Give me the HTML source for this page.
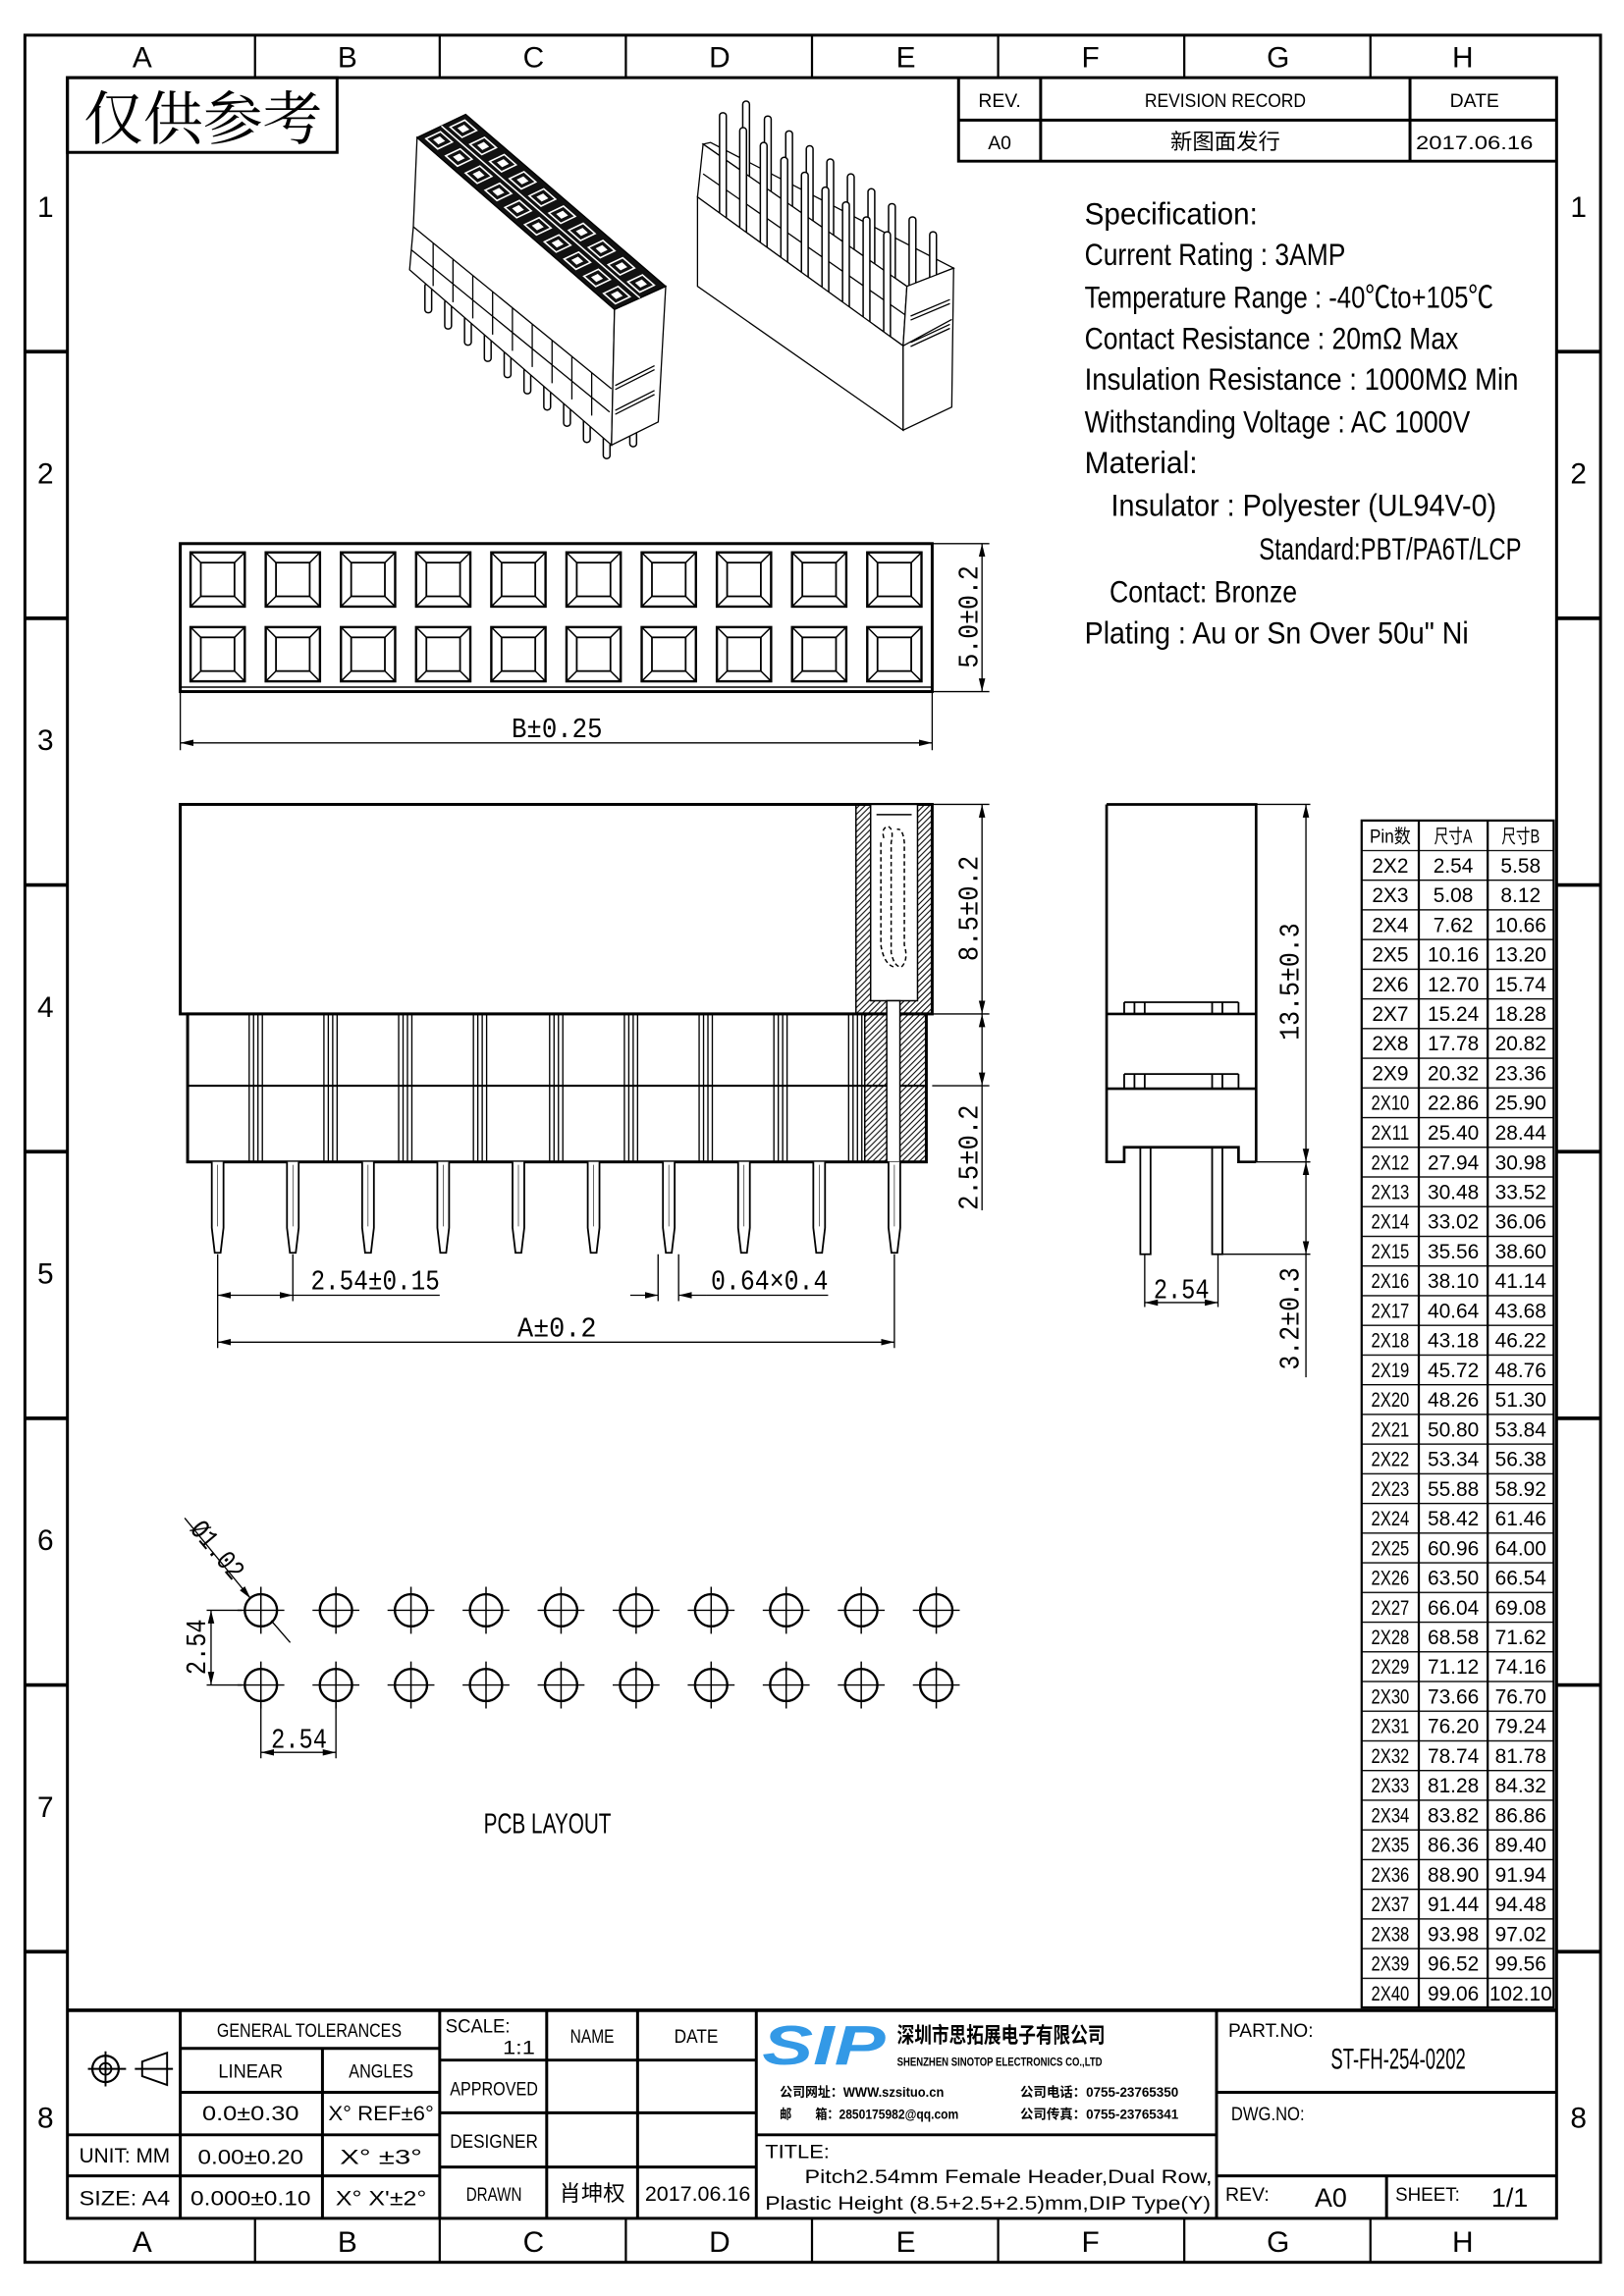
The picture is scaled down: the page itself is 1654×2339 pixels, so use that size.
<!DOCTYPE html>
<html><head><meta charset="utf-8">
<style>
html,body{margin:0;padding:0;background:#fff;}
svg{display:block;}
text{font-family:"Liberation Sans Narrow","Liberation Sans","Noto Sans CJK SC",sans-serif;fill:#000;}
.m{font-family:"Liberation Mono","Noto Sans CJK SC",monospace;}
.s{font-family:"Liberation Serif","Noto Serif CJK SC",serif;}
</style></head><body>
<svg xmlns="http://www.w3.org/2000/svg" xmlns:xlink="http://www.w3.org/1999/xlink" width="1654" height="2339" viewBox="0 0 1108 1567" preserveAspectRatio="none">
<defs>
<marker id="ar" markerWidth="10" markerHeight="6" refX="9" refY="3" orient="auto-start-reverse" markerUnits="userSpaceOnUse"><path d="M0,0.8 L9,3 L0,5.2 Z" fill="#000"/></marker>
<pattern id="hatch" width="4" height="4" patternUnits="userSpaceOnUse"><path d="M-1,1 L1,-1 M0,4 L4,0 M3,5 L5,3" stroke="#000" stroke-width="0.7"/></pattern>
<pattern id="rows" x="0" y="580" width="10" height="20.256" patternUnits="userSpaceOnUse"><line x1="0" y1="0.4" x2="10" y2="0.4" stroke="#000" stroke-width="1"/></pattern>
<g id="sq"><rect x="0" y="0" width="37" height="37" fill="none" stroke="#000" stroke-width="1.6"/><rect x="7" y="7" width="23" height="23" fill="none" stroke="#000" stroke-width="1.2"/><path d="M0,0 L7,7 M37,0 L30,7 M0,37 L7,30 M37,37 L30,30" stroke="#000" stroke-width="1"/></g>
<g id="pin"><path d="M-4,0 V45 L-2,62 H2 L4,45 V0" fill="#fff" stroke="#000" stroke-width="1.2"/><line x1="0" y1="2" x2="0" y2="44" stroke="#000" stroke-width="0.4"/></g>
<g id="hole"><circle r="11" fill="none" stroke="#000" stroke-width="1.6"/><path d="M-16,0 H16 M0,-16 V16" stroke="#000" stroke-width="1"/></g>
<g id="wall"><path d="M0,0 V101 M3,0 V101 M6,0 V101 M9,0 V101" stroke="#000" stroke-width="0.9"/></g>
<g id="cell"><polygon points="-35.3,-5.1 -3.7,26.1 35.3,5.1 3.7,-26.1" fill="none" stroke="#fff" stroke-width="1.6" vector-effect="non-scaling-stroke"/><polygon points="-17,-2.5 -2,13 17,2.5 2,-13" fill="#fff"/></g>
<g id="lp"><rect x="-9" y="0" width="18" height="90" rx="9" fill="#fff" stroke="#000" stroke-width="1.5" vector-effect="non-scaling-stroke"/></g>
<g id="rp"><rect x="-9" y="0" width="18" height="400" rx="9" fill="#fff" stroke="#000" stroke-width="1.5" vector-effect="non-scaling-stroke"/></g>
</defs>

<!-- frames -->
<rect x="17" y="24" width="1075" height="1520" fill="none" stroke="#000" stroke-width="2"/>
<rect x="46" y="53" width="1016" height="1461" fill="none" stroke="#000" stroke-width="2"/>
<path d="M174,24V53 M300,24V53 M427,24V53 M554,24V53 M681,24V53 M808,24V53 M935,24V53 M174,1514V1544 M300,1514V1544 M427,1514V1544 M554,1514V1544 M681,1514V1544 M808,1514V1544 M935,1514V1544" stroke="#000" stroke-width="1.5"/>
<path d="M17,240H46 M17,422H46 M17,604H46 M17,786H46 M17,968H46 M17,1150H46 M17,1332H46 M1062,240H1092 M1062,422H1092 M1062,604H1092 M1062,786H1092 M1062,968H1092 M1062,1150H1092 M1062,1332H1092" stroke="#000" stroke-width="2.5"/>
<g font-size="20" text-anchor="middle">
<text x="97" y="46">A</text><text x="237" y="46">B</text><text x="364" y="46">C</text><text x="491" y="46">D</text><text x="618" y="46">E</text><text x="744" y="46">F</text><text x="872" y="46">G</text><text x="998" y="46">H</text>
<text x="97" y="1537">A</text><text x="237" y="1537">B</text><text x="364" y="1537">C</text><text x="491" y="1537">D</text><text x="618" y="1537">E</text><text x="744" y="1537">F</text><text x="872" y="1537">G</text><text x="998" y="1537">H</text>
<text x="31" y="148">1</text><text x="31" y="330">2</text><text x="31" y="512">3</text><text x="31" y="694">4</text><text x="31" y="876">5</text><text x="31" y="1058">6</text><text x="31" y="1240">7</text><text x="31" y="1452">8</text>
<text x="1077" y="148">1</text><text x="1077" y="330">2</text><text x="1077" y="1452">8</text>
</g>

<!-- stamp -->
<rect x="46" y="53" width="184" height="51" fill="none" stroke="#000" stroke-width="2"/>
<text x="57" y="95" font-size="40" class="s" textLength="163" lengthAdjust="spacingAndGlyphs">仅供参考</text>

<!-- revision table -->
<path d="M654,53V110H1062 M654,82H1062 M710,53V110 M962,53V110" fill="none" stroke="#000" stroke-width="2"/>
<g font-size="13" text-anchor="middle" class="s">
<text x="682" y="73">REV.</text><text x="836" y="73" textLength="110" lengthAdjust="spacingAndGlyphs">REVISION RECORD</text><text x="1006" y="73">DATE</text>
<text x="682" y="102">A0</text><text x="836" y="102" font-size="15">新图面发行</text><text x="1006" y="102" textLength="80" lengthAdjust="spacingAndGlyphs">2017.06.16</text>
</g>

<!-- spec -->
<g font-size="21">
<text x="740" y="153" textLength="118" lengthAdjust="spacingAndGlyphs">Specification:</text>
<text x="740" y="181" textLength="178" lengthAdjust="spacingAndGlyphs">Current Rating : 3AMP</text>
<text x="740" y="210" textLength="279" lengthAdjust="spacingAndGlyphs">Temperature Range : -40℃to+105℃</text>
<text x="740" y="238" textLength="255" lengthAdjust="spacingAndGlyphs">Contact Resistance : 20mΩ Max</text>
<text x="740" y="266" textLength="296" lengthAdjust="spacingAndGlyphs">Insulation Resistance : 1000MΩ Min</text>
<text x="740" y="295" textLength="263" lengthAdjust="spacingAndGlyphs">Withstanding Voltage : AC 1000V</text>
<text x="740" y="323" textLength="77" lengthAdjust="spacingAndGlyphs">Material:</text>
<text x="758" y="352" textLength="263" lengthAdjust="spacingAndGlyphs">Insulator : Polyester (UL94V-0)</text>
<text x="859" y="382" textLength="179" lengthAdjust="spacingAndGlyphs">Standard:PBT/PA6T/LCP</text>
<text x="757" y="411" textLength="128" lengthAdjust="spacingAndGlyphs">Contact: Bronze</text>
<text x="740" y="439" textLength="262" lengthAdjust="spacingAndGlyphs">Plating : Au or Sn Over 50u" Ni</text>
</g>

<!-- left iso -->
<g transform="translate(266.7,60) scale(0.2551,0.2257)" fill="none" stroke="#000" stroke-width="1.3">
<g>
<use xlink:href="#lp" x="100" y="590"/><use xlink:href="#lp" x="153" y="639"/><use xlink:href="#lp" x="206" y="688"/><use xlink:href="#lp" x="259" y="737"/><use xlink:href="#lp" x="312" y="786"/><use xlink:href="#lp" x="365" y="835"/><use xlink:href="#lp" x="418" y="884"/><use xlink:href="#lp" x="471" y="933"/><use xlink:href="#lp" x="524" y="982"/><use xlink:href="#lp" x="577" y="1031"/><use xlink:href="#lp" x="648" y="995"/>
</g>
<polygon points="70,150 598,670 590,1080 50,550 60,420" fill="#fff" vector-effect="non-scaling-stroke"/>
<path d="M60,420 L590,910 M55,490 L585,980 M113,469V599 M166,518V648 M219,567V697 M272,616V746 M325,665V795 M378,714V844 M431,763V893 M484,812V942 M537,861V991" vector-effect="non-scaling-stroke"/>
<polygon points="598,670 735,600 715,1010 590,1080" fill="#fff" vector-effect="non-scaling-stroke"/>
<path d="M600,900 L705,840 M600,912 L705,852 M600,975 L705,915 M600,987 L705,927" vector-effect="non-scaling-stroke"/>
<polygon points="70,150 200,80 735,600 598,670" fill="#111" vector-effect="non-scaling-stroke"/>
<path d="M135,115 L666,635" stroke="#fff" stroke-width="1.5" vector-effect="non-scaling-stroke"/>
<use xlink:href="#cell" x="128.9" y="158.5"/><use xlink:href="#cell" x="181.7" y="210.5"/><use xlink:href="#cell" x="234.5" y="262.5"/><use xlink:href="#cell" x="287.3" y="314.5"/><use xlink:href="#cell" x="340.1" y="366.5"/><use xlink:href="#cell" x="392.9" y="418.5"/><use xlink:href="#cell" x="445.7" y="470.5"/><use xlink:href="#cell" x="498.5" y="522.5"/><use xlink:href="#cell" x="551.3" y="574.5"/><use xlink:href="#cell" x="604.1" y="626.5"/>
<use xlink:href="#cell" x="193.9" y="123.5"/><use xlink:href="#cell" x="246.7" y="175.5"/><use xlink:href="#cell" x="299.5" y="227.5"/><use xlink:href="#cell" x="352.3" y="279.5"/><use xlink:href="#cell" x="405.1" y="331.5"/><use xlink:href="#cell" x="457.9" y="383.5"/><use xlink:href="#cell" x="510.7" y="435.5"/><use xlink:href="#cell" x="563.5" y="487.5"/><use xlink:href="#cell" x="616.3" y="539.5"/><use xlink:href="#cell" x="669.1" y="591.5"/>
</g>

<!-- right iso -->
<g transform="translate(266.7,60) scale(0.2551,0.2257)" fill="none" stroke="#000" stroke-width="1.3">
<polygon points="835,170 855,165 1505,545 1380,600" fill="#fff" vector-effect="non-scaling-stroke"/>
<use xlink:href="#rp" x="950" y="40"/><use xlink:href="#rp" x="1008" y="85"/><use xlink:href="#rp" x="1065" y="130"/><use xlink:href="#rp" x="1120" y="175"/><use xlink:href="#rp" x="1175" y="215"/><use xlink:href="#rp" x="1230" y="260"/><use xlink:href="#rp" x="1285" y="305"/><use xlink:href="#rp" x="1340" y="350"/><use xlink:href="#rp" x="1395" y="390"/><use xlink:href="#rp" x="1450" y="435"/>
<polygon points="835,170 1380,600 1370,780 820,330" fill="#fff" vector-effect="non-scaling-stroke"/>
<path d="M835,260 L1380,690" vector-effect="non-scaling-stroke"/>
<use xlink:href="#rp" x="888" y="75"/><use xlink:href="#rp" x="942" y="120"/><use xlink:href="#rp" x="997" y="165"/><use xlink:href="#rp" x="1052" y="210"/><use xlink:href="#rp" x="1107" y="255"/><use xlink:href="#rp" x="1162" y="300"/><use xlink:href="#rp" x="1217" y="345"/><use xlink:href="#rp" x="1272" y="390"/><use xlink:href="#rp" x="1327" y="435"/>
<polygon points="820,330 1370,780 1370,1035 820,600" fill="#fff" vector-effect="non-scaling-stroke"/>
<polygon points="1380,600 1505,545 1500,965 1370,1035 1370,780" fill="#fff" vector-effect="non-scaling-stroke"/>
<path d="M1370,780 L1500,700 M1390,690 L1495,640 M1390,702 L1495,652 M1390,770 L1495,715 M1390,782 L1495,727" vector-effect="non-scaling-stroke"/>
</g>

<!-- top view -->
<rect x="123" y="371" width="513" height="101" fill="none" stroke="#000" stroke-width="2"/>
<line x1="123" y1="469" x2="636" y2="469" stroke="#000" stroke-width="1"/>
<g>
<use xlink:href="#sq" x="130" y="377"/><use xlink:href="#sq" x="181.3" y="377"/><use xlink:href="#sq" x="232.6" y="377"/><use xlink:href="#sq" x="283.9" y="377"/><use xlink:href="#sq" x="335.2" y="377"/><use xlink:href="#sq" x="386.5" y="377"/><use xlink:href="#sq" x="437.8" y="377"/><use xlink:href="#sq" x="489.1" y="377"/><use xlink:href="#sq" x="540.4" y="377"/><use xlink:href="#sq" x="591.7" y="377"/>
<use xlink:href="#sq" x="130" y="428"/><use xlink:href="#sq" x="181.3" y="428"/><use xlink:href="#sq" x="232.6" y="428"/><use xlink:href="#sq" x="283.9" y="428"/><use xlink:href="#sq" x="335.2" y="428"/><use xlink:href="#sq" x="386.5" y="428"/><use xlink:href="#sq" x="437.8" y="428"/><use xlink:href="#sq" x="489.1" y="428"/><use xlink:href="#sq" x="540.4" y="428"/><use xlink:href="#sq" x="591.7" y="428"/>
</g>
<g stroke="#000" stroke-width="0.9" fill="none">
<path d="M636,371H675 M636,472H675 M123,472V512 M636,472V512"/>
<line x1="670" y1="371" x2="670" y2="472" marker-start="url(#ar)" marker-end="url(#ar)"/>
<line x1="123" y1="507" x2="636" y2="507" marker-start="url(#ar)" marker-end="url(#ar)"/>
</g>
<text class="m" font-size="19" transform="translate(667,421) rotate(-90)" text-anchor="middle" textLength="70" lengthAdjust="spacingAndGlyphs">5.0±0.2</text>
<text class="m" font-size="19" x="380" y="503" text-anchor="middle" textLength="62" lengthAdjust="spacingAndGlyphs">B±0.25</text>

<!-- front view -->
<rect x="123" y="549" width="513" height="143" fill="#fff" stroke="#000" stroke-width="2"/>
<rect x="584" y="549" width="52" height="143" fill="url(#hatch)" stroke="#000" stroke-width="1"/>
<rect x="594" y="549" width="32" height="134" fill="#fff" stroke="#000" stroke-width="1"/>
<path d="M598,556H622" stroke="#000" stroke-width="1"/>
<path d="M603,572 Q601,565 606,564 Q610,566 608,575 L608,650 Q610,660 615,660 Q620,655 617,645 L617,575 Q616,565 612,566" fill="none" stroke="#000" stroke-width="1" stroke-dasharray="3,2"/>
<path d="M601,575 L601,645 Q603,658 610,660" fill="none" stroke="#000" stroke-width="1" stroke-dasharray="3,2"/>
<rect x="128" y="692" width="504" height="101" fill="#fff" stroke="#000" stroke-width="2"/>
<line x1="128" y1="741" x2="632" y2="741" stroke="#000" stroke-width="1.5"/>
<rect x="590" y="692" width="42" height="101" fill="url(#hatch)" stroke="#000" stroke-width="1"/>
<use xlink:href="#wall" x="170" y="692"/><use xlink:href="#wall" x="221" y="692"/><use xlink:href="#wall" x="272" y="692"/><use xlink:href="#wall" x="323" y="692"/><use xlink:href="#wall" x="375" y="692"/><use xlink:href="#wall" x="426" y="692"/><use xlink:href="#wall" x="477" y="692"/><use xlink:href="#wall" x="528" y="692"/><use xlink:href="#wall" x="579" y="692"/>
<rect x="605" y="683" width="9" height="110" fill="#fff" stroke="#000" stroke-width="1"/>
<use xlink:href="#pin" x="148.5" y="793"/><use xlink:href="#pin" x="199.8" y="793"/><use xlink:href="#pin" x="251.1" y="793"/><use xlink:href="#pin" x="302.4" y="793"/><use xlink:href="#pin" x="353.7" y="793"/><use xlink:href="#pin" x="405" y="793"/><use xlink:href="#pin" x="456.3" y="793"/><use xlink:href="#pin" x="507.6" y="793"/><use xlink:href="#pin" x="558.9" y="793"/><use xlink:href="#pin" x="610.2" y="793"/>
<g stroke="#000" stroke-width="0.9" fill="none">
<path d="M148.5,856V920 M199.8,856V888 M610.2,856V920 M449,856V888 M463,856V888 M636,549H675 M636,692H675 M636,741H675"/>
<line x1="670" y1="549" x2="670" y2="692" marker-start="url(#ar)" marker-end="url(#ar)"/>
<line x1="670" y1="692" x2="670" y2="741" marker-start="url(#ar)" marker-end="url(#ar)"/>
<line x1="670" y1="741" x2="670" y2="826"/>
<line x1="148.5" y1="884" x2="199.8" y2="884" marker-start="url(#ar)" marker-end="url(#ar)"/>
<line x1="199.8" y1="884" x2="300" y2="884"/>
<line x1="430" y1="884" x2="449" y2="884" marker-end="url(#ar)"/>
<line x1="482" y1="884" x2="463" y2="884" marker-end="url(#ar)"/>
<line x1="482" y1="884" x2="565" y2="884"/>
<line x1="148.5" y1="916" x2="610.2" y2="916" marker-start="url(#ar)" marker-end="url(#ar)"/>
</g>
<text class="m" font-size="19" transform="translate(667,620) rotate(-90)" text-anchor="middle" textLength="72" lengthAdjust="spacingAndGlyphs">8.5±0.2</text>
<text class="m" font-size="19" transform="translate(667,790) rotate(-90)" text-anchor="middle" textLength="72" lengthAdjust="spacingAndGlyphs">2.5±0.2</text>
<text class="m" font-size="19" x="212" y="880" textLength="88" lengthAdjust="spacingAndGlyphs">2.54±0.15</text>
<text class="m" font-size="19" x="485" y="880" textLength="80" lengthAdjust="spacingAndGlyphs">0.64×0.4</text>
<text class="m" font-size="19" x="380" y="912" text-anchor="middle" textLength="54" lengthAdjust="spacingAndGlyphs">A±0.2</text>

<!-- side view -->
<rect x="778" y="783" width="7" height="73" fill="#fff" stroke="#000" stroke-width="1.2"/>
<rect x="827" y="783" width="7" height="73" fill="#fff" stroke="#000" stroke-width="1.2"/>
<path d="M755,549H857V793 M755,549V793H767V783H845V793H857 M755,692H857 M755,743H857" fill="none" stroke="#000" stroke-width="1.8"/>
<path d="M767,684H845 M767,733H845 M767,684V692 M774,684V692 M781,684V692 M827,684V692 M834,684V692 M845,684V692 M767,733V743 M774,733V743 M781,733V743 M827,733V743 M834,733V743 M845,733V743" fill="none" stroke="#000" stroke-width="1.2"/>
<g stroke="#000" stroke-width="0.9" fill="none">
<path d="M857,549H894 M857,793H894 M834,856H894 M781,856V892 M831,856V892"/>
<line x1="891" y1="549" x2="891" y2="793" marker-start="url(#ar)" marker-end="url(#ar)"/>
<line x1="891" y1="793" x2="891" y2="856" marker-start="url(#ar)" marker-end="url(#ar)"/>
<line x1="891" y1="856" x2="891" y2="940"/>
<line x1="781" y1="889" x2="831" y2="889" marker-start="url(#ar)" marker-end="url(#ar)"/>
</g>
<text class="m" font-size="19" transform="translate(886,670) rotate(-90)" text-anchor="middle" textLength="80" lengthAdjust="spacingAndGlyphs">13.5±0.3</text>
<text class="m" font-size="19" transform="translate(886,900) rotate(-90)" text-anchor="middle" textLength="70" lengthAdjust="spacingAndGlyphs">3.2±0.3</text>
<text class="m" font-size="19" x="806" y="886" text-anchor="middle" textLength="38" lengthAdjust="spacingAndGlyphs">2.54</text>

<!-- pin table -->
<rect x="929" y="580" width="131" height="790" fill="url(#rows)"/>
<path d="M929,560H1060V1370H929Z M968,560V1370 M1015,560V1370 M929,1370H1060" fill="none" stroke="#000" stroke-width="1.5"/>
<g font-size="13" text-anchor="middle">
<text x="948.5" y="575" textLength="28" lengthAdjust="spacingAndGlyphs">Pin数</text><text x="991.5" y="575" textLength="26" lengthAdjust="spacingAndGlyphs">尺寸A</text><text x="1037.5" y="575" textLength="26" lengthAdjust="spacingAndGlyphs">尺寸B</text>
</g>
<g font-size="14" text-anchor="middle">
<g>
<text x="948.5" y="595.5">2X2</text><text x="948.5" y="615.8">2X3</text><text x="948.5" y="636.0">2X4</text><text x="948.5" y="656.3">2X5</text><text x="948.5" y="676.5">2X6</text><text x="948.5" y="696.8">2X7</text><text x="948.5" y="717.0">2X8</text><text x="948.5" y="737.3">2X9</text>
</g>
<g>
<text x="948.5" y="757.5" textLength="26" lengthAdjust="spacingAndGlyphs">2X10</text><text x="948.5" y="777.8" textLength="26" lengthAdjust="spacingAndGlyphs">2X11</text><text x="948.5" y="798.1" textLength="26" lengthAdjust="spacingAndGlyphs">2X12</text><text x="948.5" y="818.3" textLength="26" lengthAdjust="spacingAndGlyphs">2X13</text><text x="948.5" y="838.6" textLength="26" lengthAdjust="spacingAndGlyphs">2X14</text><text x="948.5" y="858.8" textLength="26" lengthAdjust="spacingAndGlyphs">2X15</text><text x="948.5" y="879.1" textLength="26" lengthAdjust="spacingAndGlyphs">2X16</text><text x="948.5" y="899.3" textLength="26" lengthAdjust="spacingAndGlyphs">2X17</text><text x="948.5" y="919.6" textLength="26" lengthAdjust="spacingAndGlyphs">2X18</text><text x="948.5" y="939.9" textLength="26" lengthAdjust="spacingAndGlyphs">2X19</text><text x="948.5" y="960.1" textLength="26" lengthAdjust="spacingAndGlyphs">2X20</text><text x="948.5" y="980.4" textLength="26" lengthAdjust="spacingAndGlyphs">2X21</text><text x="948.5" y="1000.6" textLength="26" lengthAdjust="spacingAndGlyphs">2X22</text><text x="948.5" y="1020.9" textLength="26" lengthAdjust="spacingAndGlyphs">2X23</text><text x="948.5" y="1041.1" textLength="26" lengthAdjust="spacingAndGlyphs">2X24</text><text x="948.5" y="1061.4" textLength="26" lengthAdjust="spacingAndGlyphs">2X25</text><text x="948.5" y="1081.6" textLength="26" lengthAdjust="spacingAndGlyphs">2X26</text><text x="948.5" y="1101.9" textLength="26" lengthAdjust="spacingAndGlyphs">2X27</text><text x="948.5" y="1122.2" textLength="26" lengthAdjust="spacingAndGlyphs">2X28</text><text x="948.5" y="1142.4" textLength="26" lengthAdjust="spacingAndGlyphs">2X29</text><text x="948.5" y="1162.7" textLength="26" lengthAdjust="spacingAndGlyphs">2X30</text><text x="948.5" y="1182.9" textLength="26" lengthAdjust="spacingAndGlyphs">2X31</text><text x="948.5" y="1203.2" textLength="26" lengthAdjust="spacingAndGlyphs">2X32</text><text x="948.5" y="1223.4" textLength="26" lengthAdjust="spacingAndGlyphs">2X33</text><text x="948.5" y="1243.7" textLength="26" lengthAdjust="spacingAndGlyphs">2X34</text><text x="948.5" y="1264.0" textLength="26" lengthAdjust="spacingAndGlyphs">2X35</text><text x="948.5" y="1284.2" textLength="26" lengthAdjust="spacingAndGlyphs">2X36</text><text x="948.5" y="1304.5" textLength="26" lengthAdjust="spacingAndGlyphs">2X37</text><text x="948.5" y="1324.7" textLength="26" lengthAdjust="spacingAndGlyphs">2X38</text><text x="948.5" y="1345.0" textLength="26" lengthAdjust="spacingAndGlyphs">2X39</text><text x="948.5" y="1365.2" textLength="26" lengthAdjust="spacingAndGlyphs">2X40</text>
</g>
<g>
<text x="991.5" y="595.5">2.54</text><text x="991.5" y="615.8">5.08</text><text x="991.5" y="636.0">7.62</text><text x="991.5" y="656.3">10.16</text><text x="991.5" y="676.5">12.70</text><text x="991.5" y="696.8">15.24</text><text x="991.5" y="717.0">17.78</text><text x="991.5" y="737.3">20.32</text><text x="991.5" y="757.5">22.86</text><text x="991.5" y="777.8">25.40</text><text x="991.5" y="798.1">27.94</text><text x="991.5" y="818.3">30.48</text><text x="991.5" y="838.6">33.02</text><text x="991.5" y="858.8">35.56</text><text x="991.5" y="879.1">38.10</text><text x="991.5" y="899.3">40.64</text><text x="991.5" y="919.6">43.18</text><text x="991.5" y="939.9">45.72</text><text x="991.5" y="960.1">48.26</text><text x="991.5" y="980.4">50.80</text><text x="991.5" y="1000.6">53.34</text><text x="991.5" y="1020.9">55.88</text><text x="991.5" y="1041.1">58.42</text><text x="991.5" y="1061.4">60.96</text><text x="991.5" y="1081.6">63.50</text><text x="991.5" y="1101.9">66.04</text><text x="991.5" y="1122.2">68.58</text><text x="991.5" y="1142.4">71.12</text><text x="991.5" y="1162.7">73.66</text><text x="991.5" y="1182.9">76.20</text><text x="991.5" y="1203.2">78.74</text><text x="991.5" y="1223.4">81.28</text><text x="991.5" y="1243.7">83.82</text><text x="991.5" y="1264.0">86.36</text><text x="991.5" y="1284.2">88.90</text><text x="991.5" y="1304.5">91.44</text><text x="991.5" y="1324.7">93.98</text><text x="991.5" y="1345.0">96.52</text><text x="991.5" y="1365.2">99.06</text>
</g>
<g>
<text x="1037.5" y="595.5">5.58</text><text x="1037.5" y="615.8">8.12</text><text x="1037.5" y="636.0">10.66</text><text x="1037.5" y="656.3">13.20</text><text x="1037.5" y="676.5">15.74</text><text x="1037.5" y="696.8">18.28</text><text x="1037.5" y="717.0">20.82</text><text x="1037.5" y="737.3">23.36</text><text x="1037.5" y="757.5">25.90</text><text x="1037.5" y="777.8">28.44</text><text x="1037.5" y="798.1">30.98</text><text x="1037.5" y="818.3">33.52</text><text x="1037.5" y="838.6">36.06</text><text x="1037.5" y="858.8">38.60</text><text x="1037.5" y="879.1">41.14</text><text x="1037.5" y="899.3">43.68</text><text x="1037.5" y="919.6">46.22</text><text x="1037.5" y="939.9">48.76</text><text x="1037.5" y="960.1">51.30</text><text x="1037.5" y="980.4">53.84</text><text x="1037.5" y="1000.6">56.38</text><text x="1037.5" y="1020.9">58.92</text><text x="1037.5" y="1041.1">61.46</text><text x="1037.5" y="1061.4">64.00</text><text x="1037.5" y="1081.6">66.54</text><text x="1037.5" y="1101.9">69.08</text><text x="1037.5" y="1122.2">71.62</text><text x="1037.5" y="1142.4">74.16</text><text x="1037.5" y="1162.7">76.70</text><text x="1037.5" y="1182.9">79.24</text><text x="1037.5" y="1203.2">81.78</text><text x="1037.5" y="1223.4">84.32</text><text x="1037.5" y="1243.7">86.86</text><text x="1037.5" y="1264.0">89.40</text><text x="1037.5" y="1284.2">91.94</text><text x="1037.5" y="1304.5">94.48</text><text x="1037.5" y="1324.7">97.02</text><text x="1037.5" y="1345.0">99.56</text><text x="1037.5" y="1365.2">102.10</text>
</g>
</g>

<!-- PCB layout -->
<use xlink:href="#hole" x="178" y="1099"/><use xlink:href="#hole" x="229.2" y="1099"/><use xlink:href="#hole" x="280.4" y="1099"/><use xlink:href="#hole" x="331.6" y="1099"/><use xlink:href="#hole" x="382.8" y="1099"/><use xlink:href="#hole" x="434" y="1099"/><use xlink:href="#hole" x="485.2" y="1099"/><use xlink:href="#hole" x="536.4" y="1099"/><use xlink:href="#hole" x="587.6" y="1099"/><use xlink:href="#hole" x="638.8" y="1099"/>
<use xlink:href="#hole" x="178" y="1150"/><use xlink:href="#hole" x="229.2" y="1150"/><use xlink:href="#hole" x="280.4" y="1150"/><use xlink:href="#hole" x="331.6" y="1150"/><use xlink:href="#hole" x="382.8" y="1150"/><use xlink:href="#hole" x="434" y="1150"/><use xlink:href="#hole" x="485.2" y="1150"/><use xlink:href="#hole" x="536.4" y="1150"/><use xlink:href="#hole" x="587.6" y="1150"/><use xlink:href="#hole" x="638.8" y="1150"/>
<g stroke="#000" stroke-width="0.9" fill="none">
<line x1="126" y1="1036" x2="171" y2="1091" marker-end="url(#ar)"/>
<line x1="198" y1="1121" x2="185" y2="1106"/>
<path d="M141,1099H165 M141,1150H165 M178,1162V1200 M229.2,1162V1200"/>
<line x1="144" y1="1099" x2="144" y2="1150" marker-start="url(#ar)" marker-end="url(#ar)"/>
<line x1="178" y1="1196" x2="229.2" y2="1196" marker-start="url(#ar)" marker-end="url(#ar)"/>
</g>
<text class="m" font-size="19" transform="translate(129,1044) rotate(50)" textLength="46" lengthAdjust="spacingAndGlyphs">Ø1.02</text>
<text class="m" font-size="19" transform="translate(140,1124) rotate(-90)" text-anchor="middle" textLength="38" lengthAdjust="spacingAndGlyphs">2.54</text>
<text class="m" font-size="19" x="204" y="1193" text-anchor="middle" textLength="38" lengthAdjust="spacingAndGlyphs">2.54</text>
<text font-size="19" x="330" y="1251" textLength="87" lengthAdjust="spacingAndGlyphs">PCB LAYOUT</text>

<!-- title block -->
<g stroke="#000" fill="none">
<path d="M46,1372H1062" stroke-width="2.5"/>
<path d="M123,1372V1514 M300,1372V1514 M373,1372V1514 M435,1372V1514 M516,1372V1514 M830,1372V1514 M220,1398V1514 M946,1485V1514" stroke-width="2"/>
<path d="M123,1398H300 M123,1428H300 M46,1457H300 M46,1485H300 M300,1406H516 M300,1442H516 M300,1479H516 M516,1457H830 M830,1428H1062 M830,1485H1062" stroke-width="2"/>
<circle cx="72" cy="1412" r="9" stroke-width="1.5"/><circle cx="72" cy="1412" r="4" stroke-width="1.2"/>
<path d="M60,1412H86 M72,1400V1424 M92,1412H118 M97,1407V1417 L114,1423V1401Z" stroke-width="1.3"/>
</g>
<g font-size="13" class="s">
<text x="211" y="1390" text-anchor="middle" textLength="126" lengthAdjust="spacingAndGlyphs">GENERAL TOLERANCES</text>
<text x="171" y="1418" text-anchor="middle" textLength="44" lengthAdjust="spacingAndGlyphs">LINEAR</text>
<text x="260" y="1418" text-anchor="middle" textLength="44" lengthAdjust="spacingAndGlyphs">ANGLES</text>
<text x="171" y="1447" text-anchor="middle" font-size="14" textLength="66" lengthAdjust="spacingAndGlyphs">0.0±0.30</text>
<text x="260" y="1447" text-anchor="middle" font-size="14" textLength="72" lengthAdjust="spacingAndGlyphs">X° REF±6°</text>
<text x="54" y="1476" font-size="14" textLength="62" lengthAdjust="spacingAndGlyphs">UNIT: MM</text>
<text x="171" y="1477" text-anchor="middle" font-size="14" textLength="72" lengthAdjust="spacingAndGlyphs">0.00±0.20</text>
<text x="260" y="1477" text-anchor="middle" font-size="14" textLength="56" lengthAdjust="spacingAndGlyphs">X° ±3°</text>
<text x="54" y="1505" font-size="14" textLength="62" lengthAdjust="spacingAndGlyphs">SIZE: A4</text>
<text x="171" y="1505" text-anchor="middle" font-size="14" textLength="82" lengthAdjust="spacingAndGlyphs">0.000±0.10</text>
<text x="260" y="1505" text-anchor="middle" font-size="14" textLength="62" lengthAdjust="spacingAndGlyphs">X° X'±2°</text>
<text x="304" y="1387" textLength="44" lengthAdjust="spacingAndGlyphs">SCALE:</text>
<text x="343" y="1402" textLength="22" lengthAdjust="spacingAndGlyphs">1:1</text>
<text x="404" y="1394" text-anchor="middle" textLength="30" lengthAdjust="spacingAndGlyphs">NAME</text>
<text x="475" y="1394" text-anchor="middle" textLength="30" lengthAdjust="spacingAndGlyphs">DATE</text>
<text x="337" y="1430" text-anchor="middle" textLength="60" lengthAdjust="spacingAndGlyphs">APPROVED</text>
<text x="337" y="1466" text-anchor="middle" textLength="60" lengthAdjust="spacingAndGlyphs">DESIGNER</text>
<text x="337" y="1502" text-anchor="middle" textLength="38" lengthAdjust="spacingAndGlyphs">DRAWN</text>
<text x="404" y="1502" text-anchor="middle" font-size="15">肖坤权</text>
<text x="476" y="1502" text-anchor="middle" font-size="14" textLength="72" lengthAdjust="spacingAndGlyphs">2017.06.16</text>
<text x="838" y="1390" textLength="58" lengthAdjust="spacingAndGlyphs">PART.NO:</text>
<text x="954" y="1412" text-anchor="middle" font-size="20" textLength="92" lengthAdjust="spacingAndGlyphs">ST-FH-254-0202</text>
<text x="840" y="1447" textLength="50" lengthAdjust="spacingAndGlyphs">DWG.NO:</text>
<text x="836" y="1502" textLength="30" lengthAdjust="spacingAndGlyphs">REV:</text>
<text x="908" y="1506" text-anchor="middle" font-size="18">A0</text>
<text x="952" y="1502" textLength="44" lengthAdjust="spacingAndGlyphs">SHEET:</text>
<text x="1030" y="1506" text-anchor="middle" font-size="18">1/1</text>
</g>
<!-- logo -->
<text x="520" y="1409" font-size="38" font-weight="bold" font-style="italic" style="fill:#3399e6" textLength="84" lengthAdjust="spacingAndGlyphs">SIP</text>
<text x="612" y="1394" font-size="15" font-weight="bold" textLength="142" lengthAdjust="spacingAndGlyphs">深圳市思拓展电子有限公司</text>
<text x="612" y="1410" font-size="8" font-weight="bold" textLength="140" lengthAdjust="spacingAndGlyphs">SHENZHEN SINOTOP ELECTRONICS CO.,LTD</text>
<g font-size="9" font-weight="bold">
<text x="532" y="1431" textLength="112" lengthAdjust="spacingAndGlyphs">公司网址：WWW.szsituo.cn</text>
<text x="532" y="1446" textLength="122" lengthAdjust="spacingAndGlyphs">邮　　箱：2850175982@qq.com</text>
<text x="696" y="1431" textLength="108" lengthAdjust="spacingAndGlyphs">公司电话：0755-23765350</text>
<text x="696" y="1446" textLength="108" lengthAdjust="spacingAndGlyphs">公司传真：0755-23765341</text>
</g>
<g class="m" font-size="13">
<text x="522" y="1473" textLength="44" lengthAdjust="spacingAndGlyphs">TITLE:</text>
<text x="549" y="1490" textLength="278" lengthAdjust="spacingAndGlyphs">Pitch2.54mm Female Header,Dual Row,</text>
<text x="522" y="1508" textLength="304" lengthAdjust="spacingAndGlyphs">Plastic Height (8.5+2.5+2.5)mm,DIP Type(Y)</text>
</g>
</svg>
</body></html>
